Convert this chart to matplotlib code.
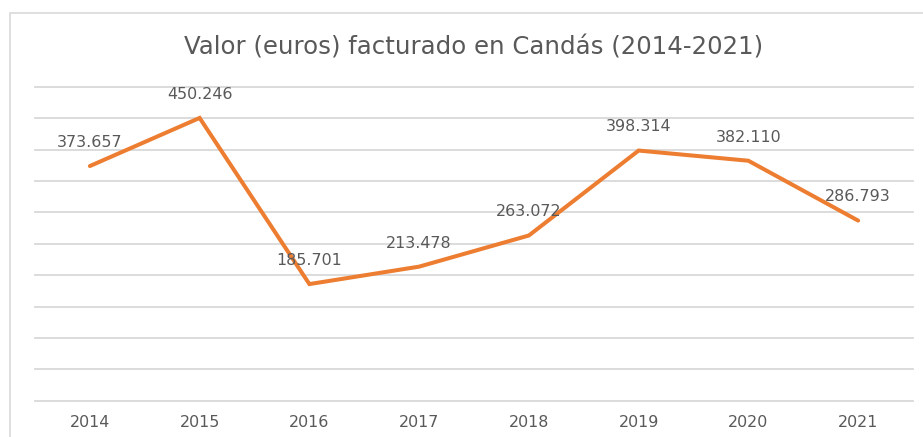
import matplotlib
matplotlib.use("Agg")
import matplotlib.pyplot as plt
from matplotlib.patches import Rectangle

# data
years = ['2014', '2015', '2016', '2017', '2018', '2019', '2020', '2021']
valor = [373657, 450246, 185701, 213478, 263072, 398314, 382110, 286793]

title = 'Valor (euros) facturado en Candás (2014-2021)'
line_color = '#ED7D31'
text_color = '#595959'
grid_color = '#D9D9D9'

plt.rcParams['font.family'] = ['DejaVu Sans']

W, H = 923, 437
fig = plt.figure(figsize=(W / 100, H / 100), dpi=100)
fig.patch.set_facecolor('white')

# chart border (cropped on the right and bottom)
fig.add_artist(Rectangle((10 / W, -0.2), 1.2, 1 - 13 / H + 0.2,
                         transform=fig.transFigure, fill=False,
                         edgecolor=grid_color, linewidth=1.2))

left, right = 35 / W, 913 / W
bottom, top = 1 - 400.7 / H, 1 - 86.7 / H
ax = fig.add_axes([left, bottom, right - left, top - bottom])

x = list(range(len(years)))
ax.plot(x, valor, color=line_color, linewidth=2.9, solid_capstyle='round',
        solid_joinstyle='miter', zorder=3)

for xi, v in zip(x, valor):
    label = f'{v:,}'.replace(',', '.')
    ax.annotate(label, xy=(xi, v), xytext=(0, 17), textcoords='offset points',
                ha='center', va='center', fontsize=11.4, color=text_color, zorder=4)

ax.set_xlim(-0.5, len(years) - 0.5)
ax.set_ylim(0, 500000)
ax.set_yticks(range(0, 500001, 50000))
ax.set_yticklabels([])
ax.set_xticks(x)
ax.set_xticklabels(years, fontsize=11.4, color=text_color)
ax.tick_params(axis='both', length=0)
ax.tick_params(axis='x', pad=10)
ax.grid(axis='y', color=grid_color, linewidth=1.3)
for gl in ax.get_ygridlines():
    gl.set_clip_on(False)
ax.set_axisbelow(True)
for s in ax.spines.values():
    s.set_visible(False)

fig.text((left + right) / 2, 1 - 47 / H, title, ha='center', va='center',
         fontsize=17.6, color=text_color)

fig.savefig('out.png', dpi=100, facecolor='white')
